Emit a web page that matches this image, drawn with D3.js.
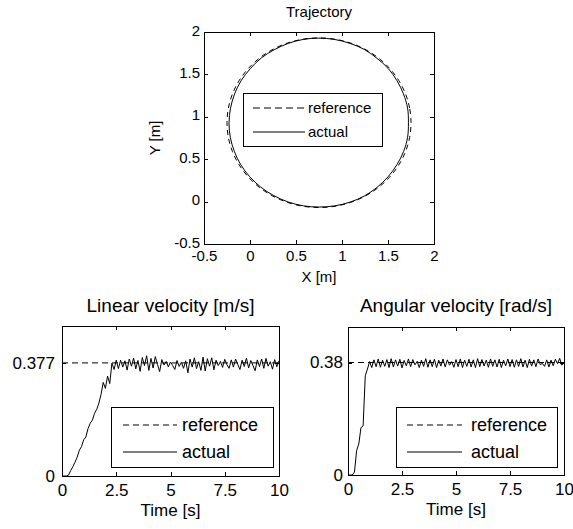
<!DOCTYPE html>
<html lang="en">
<head>
<meta charset="UTF-8">
<title>Trajectory and velocities</title>
<script src="https://d3js.org/d3.v7.min.js"></script>
<style>
  body { margin: 0; background: #fff; }
  svg { font-family: "Liberation Sans", Arial, sans-serif; }
  svg text { fill: #000; }
</style>
</head>
<body>
<div id="chart"></div>
<script>
// ---- data ----
const legendLabels = ["reference", "actual"];

// trajectory (X, Y in metres), sampled every 10 degrees
const trajTicks = [-0.5, 0, 0.5, 1, 1.5, 2];
const refX = [1.75, 1.735, 1.69, 1.616, 1.516, 1.393, 1.25, 1.092, 0.924, 0.75, 0.576, 0.408,
              0.25, 0.107, -0.016, -0.116, -0.19, -0.235, -0.25, -0.235, -0.19, -0.116, -0.016, 0.107,
              0.25, 0.408, 0.576, 0.75, 0.924, 1.092, 1.25, 1.393, 1.516, 1.616, 1.69, 1.735];
const refY = [0.93, 1.104, 1.272, 1.43, 1.573, 1.696, 1.796, 1.87, 1.915, 1.93, 1.915, 1.87,
              1.796, 1.696, 1.573, 1.43, 1.272, 1.104, 0.93, 0.756, 0.588, 0.43, 0.287, 0.164,
              0.064, -0.01, -0.055, -0.07, -0.055, -0.01, 0.064, 0.164, 0.287, 0.43, 0.588, 0.756];
const actX = [1.722, 1.713, 1.668, 1.598, 1.502, 1.38, 1.242, 1.086, 0.921, 0.748, 0.58, 0.416,
              0.262, 0.123, 0.002, -0.097, -0.168, -0.212, -0.228, -0.214, -0.17, -0.1, -0.002, 0.118,
              0.258, 0.414, 0.58, 0.752, 0.922, 1.088, 1.243, 1.382, 1.5, 1.598, 1.67, 1.713];
const actY = [0.93, 1.102, 1.27, 1.425, 1.57, 1.69, 1.795, 1.866, 1.912, 1.928, 1.913, 1.866,
              1.79, 1.694, 1.566, 1.425, 1.268, 1.101, 0.928, 0.757, 0.592, 0.434, 0.292, 0.17,
              0.071, -0.004, -0.05, -0.064, -0.05, -0.006, 0.066, 0.169, 0.292, 0.437, 0.592, 0.758];

// velocities, sampled every 0.1 s from 0 to 10 s
const timeStep = 0.1;
const timeTicks = [0, 2.5, 5, 7.5, 10];
const refTimes = [0, 10];

const linTicks = [0, 0.377];
const linReference = [0.377, 0.377];
const linActual = [0, 0, 0, 0.003, 0.018, 0.031, 0.046, 0.063, 0.086, 0.098,
  0.121, 0.13, 0.158, 0.176, 0.186, 0.209, 0.222, 0.243, 0.272, 0.312,
  0.292, 0.333, 0.308, 0.376, 0.355, 0.386,
  0.358, 0.386, 0.363, 0.384, 0.353, 0.390, 0.366, 0.393, 0.357, 0.385,
  0.349, 0.395, 0.368, 0.401, 0.352, 0.392, 0.360, 0.398, 0.372, 0.348,
  0.388, 0.370, 0.382, 0.364, 0.380, 0.368, 0.355, 0.385, 0.365, 0.379,
  0.359, 0.384, 0.344, 0.390, 0.363, 0.394, 0.358, 0.381, 0.352, 0.396,
  0.350, 0.391, 0.366, 0.394, 0.354, 0.386, 0.368, 0.382, 0.362, 0.389,
  0.371, 0.359, 0.387, 0.363, 0.390, 0.372, 0.355, 0.386, 0.365, 0.393,
  0.360, 0.385, 0.368, 0.351, 0.387, 0.365, 0.390, 0.359, 0.392, 0.366,
  0.381, 0.356, 0.388, 0.364, 0.384];

const angTicks = [0, 0.38];
const angReference = [0.38, 0.38];
const angActual = [0, 0, 0, 0.01, 0.083, 0.105, 0.16, 0.166, 0.335, 0.358, 0.383,
  0.363, 0.389, 0.366, 0.392, 0.364, 0.388, 0.367, 0.390, 0.363, 0.393,
  0.365, 0.389, 0.368, 0.391, 0.362, 0.387, 0.369, 0.392, 0.366, 0.390,
  0.372, 0.384, 0.363, 0.388, 0.367, 0.393, 0.364, 0.389, 0.366, 0.391,
  0.363, 0.388, 0.368, 0.392, 0.365, 0.389, 0.371, 0.383, 0.364, 0.390,
  0.366, 0.392, 0.363, 0.388, 0.367, 0.391, 0.365, 0.389, 0.363, 0.393,
  0.366, 0.390, 0.368, 0.388, 0.364, 0.392, 0.367, 0.389, 0.365, 0.391,
  0.363, 0.388, 0.369, 0.392, 0.366, 0.390, 0.364, 0.389, 0.367, 0.393,
  0.365, 0.388, 0.363, 0.391, 0.368, 0.389, 0.366, 0.392, 0.373, 0.377,
  0.367, 0.389, 0.365, 0.388, 0.369, 0.391, 0.376, 0.394, 0.371, 0.379];

const svg = d3.select("#chart").append("svg")
  .attr("width", 573)
  .attr("height", 529);

const fmt = d => String(d);

function drawPanel(o) {
  const x = d3.scaleLinear().domain(o.xDomain).range([o.left, o.left + o.width]);
  const y = d3.scaleLinear().domain(o.yDomain).range([o.top + o.height, o.top]);
  const g = svg.append("g");

  const styleAxis = sel => {
    sel.select(".domain").remove();
    sel.attr("font-family", null).attr("font-size", o.tickFont);
    sel.selectAll("line").attr("stroke", "#000").attr("shape-rendering", "crispEdges");
  };

  g.append("g").attr("transform", `translate(0,${o.top + o.height})`)
    .call(d3.axisBottom(x).tickValues(o.xTicks).tickFormat(fmt)
      .tickSizeInner(-4).tickSizeOuter(0).tickPadding(o.xPad))
    .call(styleAxis);
  g.append("g").attr("transform", `translate(${o.left},0)`)
    .call(d3.axisLeft(y).tickValues(o.yTicks).tickFormat(fmt)
      .tickSizeInner(-4).tickSizeOuter(0).tickPadding(o.yPad))
    .call(styleAxis)
    .call(a => a.selectAll("text").attr("dy", o.yDy));
  // mirrored ticks on top and right
  g.append("g").attr("transform", `translate(0,${o.top})`)
    .call(d3.axisTop(x).tickValues(o.xTicks).tickFormat("").tickSizeInner(-4).tickSizeOuter(0))
    .call(styleAxis);
  g.append("g").attr("transform", `translate(${o.left + o.width},0)`)
    .call(d3.axisRight(y).tickValues(o.yTicks).tickFormat("").tickSizeInner(-4).tickSizeOuter(0))
    .call(styleAxis);

  // series
  o.series.forEach(s => {
    const line = d3.line()
      .x((d, i) => x(s.xs[i]))
      .y(d => y(d));
    if (s.curve) line.curve(s.curve);
    g.append("path")
      .datum(s.ys)
      .attr("d", line)
      .attr("fill", "none")
      .attr("stroke", "#000")
      .attr("stroke-width", 1)
      .attr("stroke-dasharray", s.dash ? s.dash : null);
  });

  // box
  g.append("rect")
    .attr("x", o.left).attr("y", o.top)
    .attr("width", o.width).attr("height", o.height)
    .attr("fill", "none").attr("stroke", "#000")
    .attr("shape-rendering", "crispEdges");

  // legend
  const L = o.legend;
  g.append("rect")
    .attr("x", L.x).attr("y", L.y).attr("width", L.w).attr("height", L.h)
    .attr("fill", "#fff").attr("stroke", "#000").attr("shape-rendering", "crispEdges");
  legendLabels.forEach((lab, i) => {
    const ly = L.y + L.rows[i];
    g.append("line")
      .attr("x1", L.x + L.lineX0).attr("x2", L.x + L.lineX1)
      .attr("y1", ly).attr("y2", ly)
      .attr("stroke", "#000")
      .attr("stroke-dasharray", i === 0 ? o.legendDash : null);
    g.append("text")
      .attr("x", L.x + L.textX).attr("y", ly).attr("dy", "0.35em")
      .attr("font-size", L.font)
      .text(lab);
  });

  // title and labels
  g.append("text")
    .attr("x", o.left + o.width / 2).attr("y", o.titleY)
    .attr("text-anchor", "middle").attr("font-size", o.titleFont)
    .text(o.title);
  g.append("text")
    .attr("x", o.left + o.width / 2).attr("y", o.xLabelY)
    .attr("text-anchor", "middle").attr("font-size", o.labelFont)
    .text(o.xLabel);
  if (o.yLabel) {
    g.append("text")
      .attr("transform", `translate(${o.yLabelX},${o.top + o.height / 2}) rotate(-90)`)
      .attr("text-anchor", "middle").attr("font-size", o.labelFont)
      .text(o.yLabel);
  }
}

const times = linActual.map((d, i) => i * timeStep);

drawPanel({
  left: 204, top: 32, width: 230, height: 212,
  xDomain: [-0.5, 2], yDomain: [-0.5, 2],
  xTicks: trajTicks, yTicks: trajTicks,
  tickFont: 15, xPad: 6, yPad: 4, yDy: "0.2em",
  title: "Trajectory", titleY: 17, titleFont: 15,
  xLabel: "X [m]", xLabelY: 282, labelFont: 15,
  yLabel: "Y [m]", yLabelX: 160,
  series: [
    { xs: refX, ys: refY, dash: "5,4", curve: d3.curveCardinalClosed },
    { xs: actX, ys: actY, curve: d3.curveCardinalClosed }
  ],
  legendDash: "7,4",
  legend: { x: 243, y: 93, w: 139, h: 53, rows: [15, 39], lineX0: 10, lineX1: 62, textX: 65, font: 15 }
});

drawPanel({
  left: 62, top: 326, width: 217, height: 150,
  xDomain: [0, 10], yDomain: [0, 0.5],
  xTicks: timeTicks, yTicks: linTicks,
  tickFont: 17, xPad: 8, yPad: 7, yDy: "0.32em",
  title: "Linear velocity [m/s]", titleY: 312, titleFont: 19,
  xLabel: "Time [s]", xLabelY: 516, labelFont: 17,
  series: [
    { xs: refTimes, ys: linReference, dash: "6,4" },
    { xs: times, ys: linActual }
  ],
  legendDash: "6,4",
  legend: { x: 111, y: 407, w: 162, h: 60, rows: [18, 45], lineX0: 12, lineX1: 66, textX: 71, font: 18 }
});

drawPanel({
  left: 348, top: 327, width: 216, height: 148,
  xDomain: [0, 10], yDomain: [0, 0.5],
  xTicks: timeTicks, yTicks: angTicks,
  tickFont: 17, xPad: 8, yPad: 5, yDy: "0.32em",
  title: "Angular velocity [rad/s]", titleY: 312, titleFont: 19,
  xLabel: "Time [s]", xLabelY: 515, labelFont: 17,
  series: [
    { xs: refTimes, ys: angReference, dash: "6,4" },
    { xs: times, ys: angActual }
  ],
  legendDash: "6,4",
  legend: { x: 396, y: 407, w: 161, h: 60, rows: [18, 45], lineX0: 11, lineX1: 66, textX: 75, font: 18 }
});
</script>
</body>
</html>
